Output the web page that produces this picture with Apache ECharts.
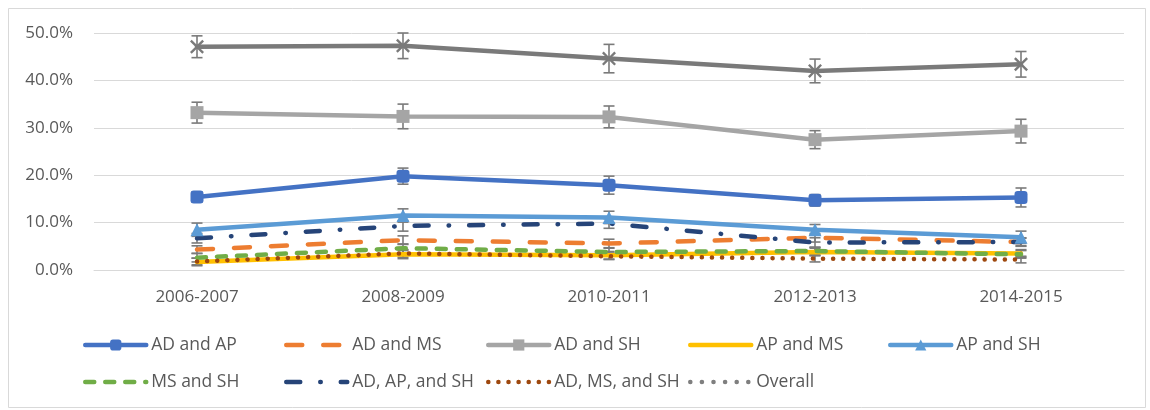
<!DOCTYPE html>
<html>
<head>
<meta charset="utf-8">
<script src="https://cdn.jsdelivr.net/npm/echarts@6/dist/echarts.min.js"></script>
<style>
html, body { margin: 0; padding: 0; background: #fff; }
#chart { width: 1150px; height: 410px; }
</style>
</head>
<body>
<div id="chart"></div>
<script>
// periods on the x axis
var periods = ['2006-2007', '2008-2009', '2010-2011', '2012-2013', '2014-2015'];

// percentages
var adAp = [15.4, 19.8, 17.9, 14.7, 15.3];
var adMs = [4.3, 6.3, 5.6, 6.8, 5.9];
var adSh = [33.2, 32.4, 32.3, 27.5, 29.3];
var apMs = [1.7, 3.3, 3.1, 3.8, 3.5];
var apSh = [8.5, 11.5, 11.1, 8.5, 6.9];
var msSh = [2.6, 4.6, 3.8, 4.0, 3.3];
var adApSh = [6.7, 9.3, 9.8, 5.8, 5.9];
var adMsSh = [1.8, 3.5, 2.9, 2.4, 2.2];
var overall = [47.1, 47.3, 44.6, 42.0, 43.4];

// error bar half lengths (percentage points)
var adApErr = [1.1, 1.7, 1.9, 1.2, 2.0];
var adMsErr = [0.8, 0.9, 0.9, 0.9, 0.8];
var adShErr = [2.2, 2.6, 2.3, 1.9, 2.5];
var apMsErr = [0.8, 0.9, 0.8, 0.8, 0.8];
var apShErr = [1.4, 1.4, 1.3, 1.1, 1.3];
var msShErr = [0.9, 0.9, 0.8, 0.8, 0.8];
var adApShErr = [1.0, 1.1, 1.0, 1.0, 0.9];
var adMsShErr = [0.7, 0.8, 0.7, 0.7, 0.7];
var overallErr = [2.3, 2.7, 3.0, 2.5, 2.7];

var yTicks = { min: 0, max: 50, step: 10 };

var textGray = '#595959';
var errGray = '#7a7a7a';
var font = '"Open Sans", "Noto Sans", sans-serif';
var xMark = 'path://M0,1.2 L1.2,0 L5,3.8 L8.8,0 L10,1.2 L6.2,5 L10,8.8 L8.8,10 L5,6.2 L1.2,10 L0,8.8 L3.8,5 Z';

var chart = echarts.init(document.getElementById('chart'));

function lineSeries(name, data, color, lineType, symbol, size) {
    return {
        name: name,
        type: 'line',
        data: data,
        symbol: symbol || 'none',
        symbolSize: size || 12,
        showSymbol: !!symbol,
        z: 3,
        itemStyle: { color: color },
        lineStyle: { color: color, width: 4.5, type: lineType || 'solid', cap: 'round' },
        emphasis: { disabled: true }
    };
}

function errSeries(name, data, errs) {
    var rows = [];
    for (var i = 0; i < data.length; i++) {
        rows.push([i, data[i], errs[i]]);
    }
    return {
        name: name + ' err',
        type: 'custom',
        z: 2,
        silent: true,
        encode: { x: 0, y: 1 },
        data: rows,
        renderItem: function (params, api) {
            var x = api.value(0);
            var hi = api.coord([x, api.value(1) + api.value(2)]);
            var lo = api.coord([x, api.value(1) - api.value(2)]);
            var c = 5.5;
            var st = { stroke: errGray, lineWidth: 1.6 };
            return {
                type: 'group',
                children: [
                    { type: 'line', shape: { x1: hi[0], y1: hi[1], x2: lo[0], y2: lo[1] }, style: st },
                    { type: 'line', shape: { x1: hi[0] - c, y1: hi[1], x2: hi[0] + c, y2: hi[1] }, style: st },
                    { type: 'line', shape: { x1: lo[0] - c, y1: lo[1], x2: lo[0] + c, y2: lo[1] }, style: st }
                ]
            };
        }
    };
}

// one legend per entry so the columns line up like the original
function legendItem(name, left, top, plain, extraLine) {
    var item = { name: name };
    if (plain) {
        item.itemStyle = { opacity: 0 };
    }
    if (extraLine) {
        item.lineStyle = extraLine;
    }
    return {
        data: [item],
        left: left,
        top: top,
        itemWidth: 61,
        itemHeight: 14,
        selectedMode: false,
        lineStyle: { width: 4.5 },
        textStyle: { color: textGray, fontSize: 17.5, fontFamily: font }
    };
}

var row1 = 331, row2 = 368;
var cols = [78, 279, 481, 683, 883];

var option = {
    backgroundColor: '#fff',
    animation: false,
    graphic: [{
        type: 'rect',
        shape: { x: 8.5, y: 8.5, width: 1137, height: 399 },
        style: { fill: 'none', stroke: '#d9d9d9', lineWidth: 1 },
        silent: true
    }],
    grid: { left: 94, right: 26, top: 33, bottom: 140 },
    xAxis: {
        type: 'category',
        data: periods,
        boundaryGap: true,
        axisLine: { show: true, lineStyle: { color: '#d9d9d9', width: 1 } },
        axisTick: { show: false },
        axisLabel: { color: textGray, fontSize: 17, fontFamily: font, margin: 19 }
    },
    yAxis: {
        type: 'value',
        min: yTicks.min,
        max: yTicks.max,
        interval: yTicks.step,
        axisLine: { show: false },
        axisTick: { show: false },
        splitLine: { lineStyle: { color: '#d9d9d9', width: 1 } },
        axisLabel: {
            color: textGray, fontSize: 17, fontFamily: font, margin: 21,
            formatter: function (v) { return v.toFixed(1) + '%'; }
        }
    },
    legend: [
        legendItem('AD and AP', cols[0], row1, false),
        legendItem('AD and MS', cols[1], row1, true),
        legendItem('AD and SH', cols[2], row1, false),
        legendItem('AP and MS', cols[3], row1, true),
        legendItem('AP and SH', cols[4], row1, false),
        legendItem('MS and SH', cols[0], row2, true),
        legendItem('AD, AP, and SH', cols[1], row2, true),
        legendItem('AD, MS, and SH', cols[2], row2, true),
        legendItem('Overall', cols[3], row2, true,
            { type: [0.1, 11.5], width: 4.5, cap: 'round', color: '#7f7f7f' })
    ],
    series: [
        errSeries('AD and AP', adAp, adApErr),
        errSeries('AD and MS', adMs, adMsErr),
        errSeries('AD and SH', adSh, adShErr),
        errSeries('AP and MS', apMs, apMsErr),
        errSeries('AP and SH', apSh, apShErr),
        errSeries('MS and SH', msSh, msShErr),
        errSeries('AD, AP, and SH', adApSh, adApShErr),
        errSeries('AD, MS, and SH', adMsSh, adMsShErr),
        errSeries('Overall', overall, overallErr),
        lineSeries('AD and AP', adAp, '#4472c4', 'solid', 'roundRect', 13),
        lineSeries('AD and MS', adMs, '#ed7d31', [16, 21]),
        lineSeries('AD and SH', adSh, '#a5a5a5', 'solid', 'rect', 13),
        lineSeries('AP and MS', apMs, '#ffc000', 'solid'),
        lineSeries('AP and SH', apSh, '#5b9bd5', 'solid', 'triangle', 13),
        lineSeries('MS and SH', msSh, '#70ad47', [9, 11]),
        lineSeries('AD, AP, and SH', adApSh, '#264478', [14, 20, 0.5, 20]),
        lineSeries('AD, MS, and SH', adMsSh, '#9e480e', [0.1, 10]),
        lineSeries('Overall', overall, '#7a7a7a', 'solid', xMark, 14)
    ]
};

chart.setOption(option);
</script>
</body>
</html>
